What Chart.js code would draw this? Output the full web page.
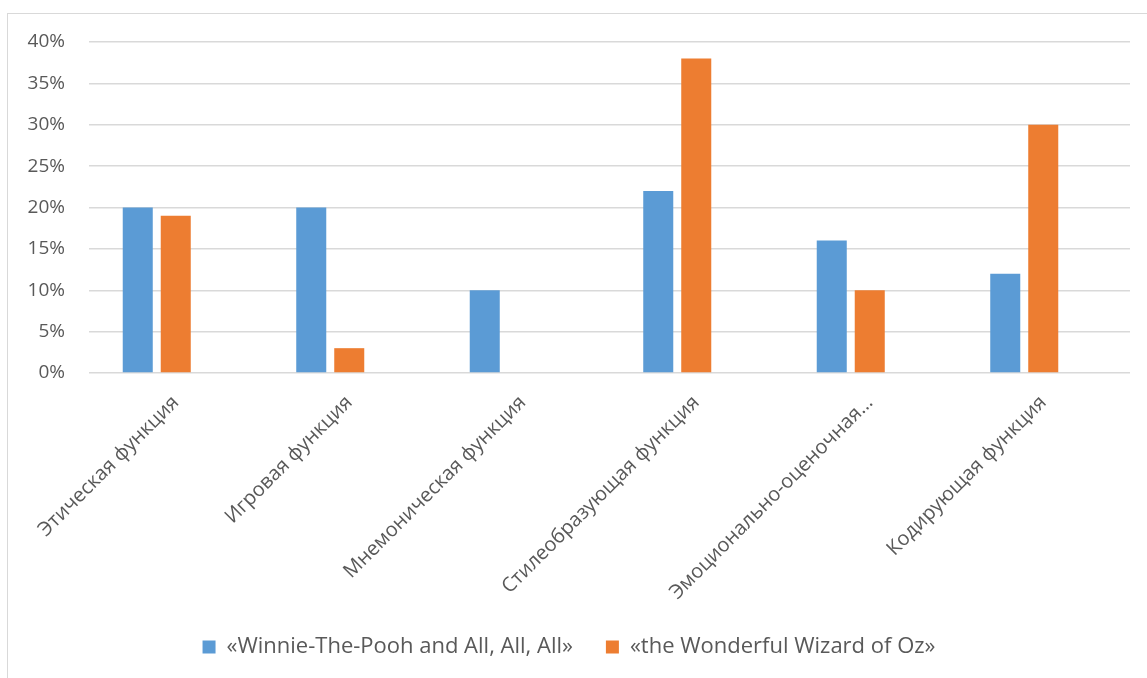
<!DOCTYPE html>
<html>
<head>
<meta charset="utf-8">
<script src="https://cdn.jsdelivr.net/npm/chart.js@4"></script>
<style>
  html, body { margin: 0; padding: 0; background: #fff; }
  #frame {
    position: absolute; left: 7px; top: 13px; right: -5px; bottom: -5px;
    border-left: 1px solid #D9D9D9; border-top: 1px solid #D9D9D9;
  }
  #wrap { position: absolute; left: 0; top: 0; width: 1147px; height: 678px; }
</style>
</head>
<body>
<div id="frame"></div>
<div id="wrap"><canvas id="chart"></canvas></div>
<script>
// Chart data
const categories = [
    'Этическая функция',
    'Игровая функция',
    'Мнемоническая функция',
    'Стилеобразующая функция',
    'Эмоционально-оценочная…',
    'Кодирующая функция'
];
const poohValues = [20, 20, 10, 22, 16, 12];
const ozValues = [19, 3, 0, 38, 10, 30];
const emptyValues = [null, null, null, null, null, null];
const yTicks = [0, 5, 10, 15, 20, 25, 30, 35, 40];

const textColor = '#595959';
const gridColor = '#D9D9D9';

function drawChart() {
    new Chart(document.getElementById('chart'), {
        type: 'bar',
        data: {
            labels: categories,
            datasets: [
                {
                    label: '«Winnie-The-Pooh and All, All, All»',
                    data: poohValues,
                    backgroundColor: '#5B9BD5'
                },
                {
                    label: '«the Wonderful Wizard of Oz»',
                    data: ozValues,
                    backgroundColor: '#ED7D31'
                },
                {
                    // empty third series from the source sheet, keeps bar spacing
                    label: '',
                    data: emptyValues,
                    backgroundColor: 'rgba(0,0,0,0)'
                }
            ]
        },
        options: {
            responsive: true,
            maintainAspectRatio: false,
            animation: false,
            categoryPercentage: 0.657,
            barPercentage: 0.79,
            layout: {
                padding: { left: 8, top: 42, right: 17, bottom: 10 }
            },
            plugins: {
                tooltip: { enabled: false },
                legend: {
                    position: 'bottom',
                    labels: {
                        filter: (item) => item.text !== '',
                        color: textColor,
                        font: { family: 'Open Sans', size: 22 },
                        boxWidth: 13,
                        boxHeight: 13,
                        padding: 33
                    }
                }
            },
            scales: {
                y: {
                    min: 0,
                    max: 40,
                    afterBuildTicks: (scale) => {
                        scale.ticks = yTicks.map(v => ({ value: v }));
                    },
                    afterFit: (scale) => { scale.width = 81; },
                    border: { display: false },
                    grid: { color: gridColor, drawTicks: false, lineWidth: 1.5 },
                    ticks: {
                        color: textColor,
                        padding: 24,
                        font: { family: 'Open Sans', size: 19 },
                        callback: (v) => v + '%'
                    }
                },
                x: {
                    // tall enough for the rotated labels, keeps 0% line at y=373
                    afterFit: (scale) => { scale.height = 230; },
                    border: { display: false },
                    grid: { display: false, drawTicks: false },
                    ticks: {
                        color: textColor,
                        autoSkip: false,
                        maxRotation: 45,
                        minRotation: 45,
                        padding: 18,
                        font: { family: 'Open Sans', size: 20 }
                    }
                }
            }
        }
    });
}

Promise.all([
    document.fonts.load('19px "Open Sans"'),
    document.fonts.load('19px "Open Sans"', 'Этическая')
]).then(drawChart, drawChart);
</script>
</body>
</html>
